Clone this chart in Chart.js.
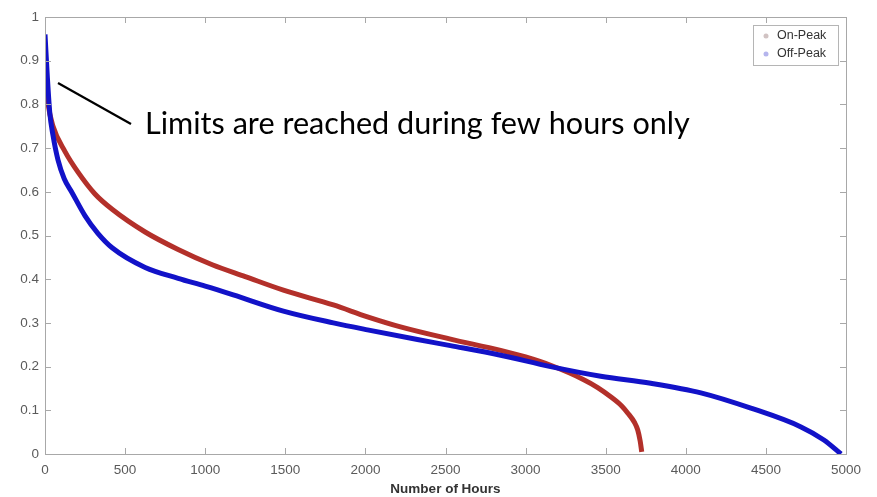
<!DOCTYPE html>
<html>
<head>
<meta charset="utf-8">
<script src="https://cdn.jsdelivr.net/npm/chart.js@4.4.0/dist/chart.umd.min.js"></script>
<style>
html,body{margin:0;padding:0;background:#fff;}
#wrap{width:877px;height:497px;position:relative;}
</style>
</head>
<body>
<div id="wrap"><canvas id="c" width="877" height="497"></canvas></div>
<script>
// ---- data ----
const seriesNames = ["On-Peak", "Off-Peak"];
const onPeakHours = [0, 20, 50, 125, 206, 312, 419, 625, 831, 1044, 1250, 1488, 1800, 2013, 2219, 2531, 2844, 3000, 3156, 3363, 3450, 3531, 3600, 3637, 3680, 3700, 3715, 3725];
const onPeakValues = [0.88, 0.80, 0.750, 0.692, 0.645, 0.595, 0.560, 0.508, 0.468, 0.433, 0.406, 0.375, 0.341, 0.314, 0.291, 0.263, 0.237, 0.222, 0.203, 0.170, 0.152, 0.131, 0.110, 0.094, 0.072, 0.055, 0.030, 0.005];
const offPeakHours = [0, 15, 30, 50, 81, 120, 169, 250, 330, 419, 625, 831, 1000, 1175, 1488, 1800, 2013, 2325, 2531, 2844, 3156, 3469, 3781, 4094, 4406, 4719, 4862, 4969];
const offPeakValues = [0.96, 0.86, 0.78, 0.729, 0.673, 0.630, 0.598, 0.545, 0.505, 0.472, 0.427, 0.402, 0.384, 0.364, 0.327, 0.300, 0.284, 0.262, 0.248, 0.226, 0.200, 0.178, 0.162, 0.140, 0.105, 0.062, 0.032, 0.0];
const xTicks = [0, 500, 1000, 1500, 2000, 2500, 3000, 3500, 4000, 4500, 5000];
const yTicks = [0, 0.1, 0.2, 0.3, 0.4, 0.5, 0.6, 0.7, 0.8, 0.9, 1];
const xTitle = "Number of Hours";
const annotationText = "Limits are reached during few hours only";

const toPts = (xs, ys) => xs.map((x, i) => ({x: x, y: ys[i]}));

const boxPlugin = {
  id: 'boxTicks',
  afterDatasetsDraw(chart) {
    const ctx = chart.ctx, a = chart.chartArea;
    const xs = chart.scales.x, ys = chart.scales.y;
    ctx.save();
    ctx.strokeStyle = '#a8a8a8';
    ctx.lineWidth = 1;
    ctx.strokeRect(Math.round(a.left) + 0.5, Math.round(a.top) + 0.5, Math.round(a.right - a.left), Math.round(a.bottom - a.top));
    ctx.beginPath();
    const L = 6;
    xTicks.forEach(v => {
      const px = Math.round(xs.getPixelForValue(v)) + 0.5;
      ctx.moveTo(px, a.bottom); ctx.lineTo(px, a.bottom - L);
      ctx.moveTo(px, a.top); ctx.lineTo(px, a.top + L);
    });
    yTicks.forEach(v => {
      const py = Math.round(ys.getPixelForValue(v)) + 0.5;
      ctx.moveTo(a.left, py); ctx.lineTo(a.left + L, py);
      ctx.moveTo(a.right, py); ctx.lineTo(a.right - L, py);
    });
    ctx.stroke();

    // legend box
    const lx = a.right - 93, ly = a.top + 8, lw = 85, lh = 40;
    ctx.fillStyle = '#fff';
    ctx.fillRect(lx, ly, lw, lh);
    ctx.strokeStyle = '#b5b5b5';
    ctx.strokeRect(lx + 0.5, ly + 0.5, lw, lh);
    const markerCols = ['rgba(190,170,170,0.7)', 'rgba(150,150,230,0.7)'];
    ctx.font = '12.5px "Liberation Sans", Arial, sans-serif';
    ctx.textBaseline = 'middle';
    ctx.textAlign = 'left';
    chart.data.datasets.forEach((ds, i) => {
      const cy = ly + 11 + i * 18;
      ctx.fillStyle = markerCols[i];
      ctx.beginPath(); ctx.arc(lx + 13, cy, 2.5, 0, Math.PI * 2); ctx.fill();
      ctx.fillStyle = '#333';
      ctx.fillText(ds.label, lx + 24, cy);
    });

    // annotation
    ctx.strokeStyle = '#000';
    ctx.lineWidth = 2.2;
    ctx.beginPath();
    ctx.moveTo(58, 83); ctx.lineTo(131, 124);
    ctx.stroke();
    let fs = 24;
    ctx.font = fs + 'px Lato, "Open Sans", sans-serif';
    const w = ctx.measureText(annotationText).width;
    fs = fs * 545 / w;
    ctx.font = fs.toFixed(2) + 'px Lato, "Open Sans", sans-serif';
    ctx.fillStyle = '#000';
    ctx.textBaseline = 'alphabetic';
    ctx.fillText(annotationText, 145, 134);
    ctx.restore();
  }
};

new Chart(document.getElementById('c'), {
  type: 'scatter',
  data: {
    datasets: [
      {label: seriesNames[0], data: toPts(onPeakHours, onPeakValues), showLine: true, borderColor: '#b3302a', backgroundColor: '#b3302a', borderWidth: 5, pointRadius: 0, cubicInterpolationMode: 'monotone', order: 2},
      {label: seriesNames[1], data: toPts(offPeakHours, offPeakValues), showLine: true, borderColor: '#1212c8', backgroundColor: '#1212c8', borderWidth: 5, pointRadius: 0, cubicInterpolationMode: 'monotone', order: 1}
    ]
  },
  options: {
    responsive: false,
    animation: false,
    layout: {padding: {top: 17, right: 31, left: 0, bottom: 0}},
    plugins: {legend: {display: false}, tooltip: {enabled: false}},
    scales: {
      x: {
        type: 'linear', min: 0, max: 5000,
        afterBuildTicks: s => { s.ticks = xTicks.map(v => ({value: v})); },
        afterFit: s => { s.height = 43; },
        grid: {display: false}, border: {display: false},
        ticks: {callback: v => String(v), color: '#5a5a5a', padding: 0, maxRotation: 0, font: {family: '"Liberation Sans", Arial, sans-serif', size: 13.5}},
        title: {display: true, text: xTitle, color: '#333', padding: {top: 0, bottom: 0}, font: {family: '"Liberation Sans", Arial, sans-serif', size: 13.5, weight: 'bold'}}
      },
      y: {
        type: 'linear', min: 0, max: 1,
        afterBuildTicks: s => { s.ticks = yTicks.map(v => ({value: v})); },
        afterFit: s => { s.width = 45; },
        grid: {display: false}, border: {display: false},
        ticks: {callback: v => String(v), color: '#5a5a5a', padding: -2, font: {family: '"Liberation Sans", Arial, sans-serif', size: 13.5}}
      }
    }
  },
  plugins: [boxPlugin]
});
</script>
</body>
</html>
